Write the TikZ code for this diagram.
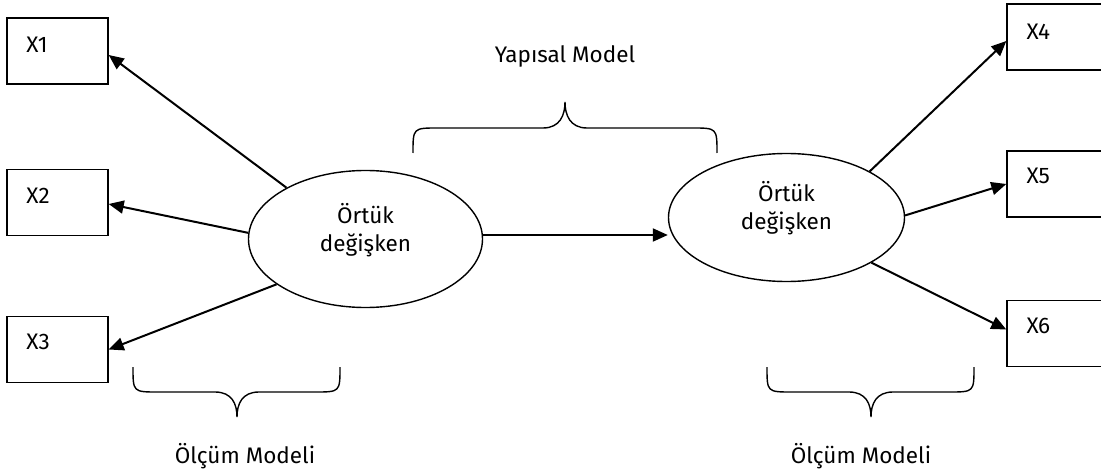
\documentclass[tikz,border=0pt]{standalone}
\usepackage{fontspec}
\setmainfont{Fira Sans}
\usetikzlibrary{arrows.meta,shapes.geometric}
\begin{document}
\begin{tikzpicture}[x=1pt,y=-1pt,
  every node/.style={font=\fontsize{22.5}{28}\selectfont},
  obs/.style={draw, line width=1.4pt, rectangle, minimum width=101pt, minimum height=66pt, inner sep=0pt},
  lat/.style={draw, line width=1.4pt, ellipse, inner sep=0pt},
  arr/.style={line width=2pt, -{Triangle[length=15pt,width=13pt]}},
  brace/.style={line width=1.4pt},
  boxlbl/.style={anchor=west, inner sep=0pt},
  captext/.style={anchor=base, inner sep=0pt},
  inside/.style={align=center, inner sep=0pt}]

\useasboundingbox (0,0) rectangle (1101,476);
\clip (0,0) rectangle (1101,476);

% observed indicators
\node[obs] (x1) at (57.5,51) {};
\node[obs] (x2) at (57.5,202.5) {};
\node[obs] (x3) at (57.5,349.5) {};
\node[obs] (x4) at (1057.5,37) {};
\node[obs] (x5) at (1057.5,184) {};
\node[obs] (x6) at (1057.5,333.5) {};

\node[boxlbl] (x1t) at ([shift={(20,27)}]x1.north west) {X1};
\node[boxlbl] (x2t) at ([shift={(20,27)}]x2.north west) {X2};
\node[boxlbl] (x3t) at ([shift={(20,26)}]x3.north west) {X3};
\node[boxlbl] (x4t) at ([shift={(20,28)}]x4.north west) {X4};
\node[boxlbl] (x5t) at ([shift={(20,26)}]x5.north west) {X5};
\node[boxlbl] (x6t) at ([shift={(20,26)}]x6.north west) {X6};

% latent variables
\node[lat, minimum width=234pt, minimum height=137pt] (e1) at (365.5,239) {};
\node[lat, minimum width=236pt, minimum height=128pt] (e2) at (786.5,217.5) {};
\node[inside] (e1t) at ([yshift=9pt]e1.center) {Örtük\\değişken};
\node[inside] (e2t) at ([yshift=9pt]e2.center) {Örtük\\değişken};

% loadings and structural path
\draw[arr] (e1.147) -- ([yshift=-4pt]x1.east);
\draw[arr] (e1.177) -- ([yshift=-1.5pt]x2.east);
\draw[arr] (e1.207.5) -- (x3.east);
\draw[arr] ([yshift=4pt]e1.east) -- ([yshift=4pt]e1.east -| e2.west);
\draw[arr] (e2.29.7) -- ([yshift=-4pt]x4.west);
\draw[arr] (e2.1.2) -- (x5.west);
\draw[arr] (e2.332) -- ([yshift=4pt]x6.west);

% braces
\draw[brace] (413,153) .. controls (413,128) .. (438,128) -- (543,128)
  .. controls (560,128) and (565,115) .. (565,102)
  .. controls (565,115) and (570,128) .. (587,128) -- (692,128)
  .. controls (717,128) .. (717,153);
\draw[brace] (133,367) .. controls (133,392) .. (158,392) -- (215,392)
  .. controls (232,392) and (237,404) .. (237,417)
  .. controls (237,404) and (242,392) .. (259,392) -- (315,392)
  .. controls (340,392) .. (340,367);
\draw[brace] (767,367) .. controls (767,392) .. (792,392) -- (849,392)
  .. controls (866,392) and (871,404) .. (871,417)
  .. controls (871,404) and (876,392) .. (893,392) -- (949,392)
  .. controls (974,392) .. (974,367);

% captions
\node[captext] (ys) at (565,63) {Yapısal Model};
\node[captext] (om1) at (245,463) {Ölçüm Modeli};
\node[captext] (om2) at (861,463) {Ölçüm Modeli};
\end{tikzpicture}
\end{document}
